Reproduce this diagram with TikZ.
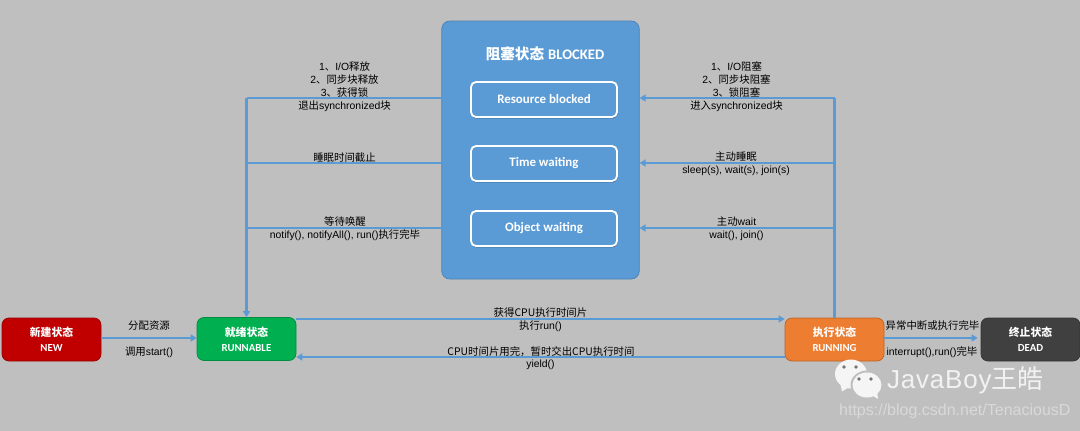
\documentclass[tikz,border=0pt]{standalone}
\usepackage{fontspec}
\setmainfont{Liberation Sans}
\newfontfamily\calf{Carlito}
\newfontfamily\cj{Noto Sans CJK SC}
\usetikzlibrary{arrows.meta,shadows}
\definecolor{bgc}{HTML}{BFBFBF}
\definecolor{bl}{HTML}{5B9BD5}
\definecolor{bld}{HTML}{4A82B5}
\definecolor{cred}{HTML}{C00000}
\definecolor{cgreen}{HTML}{00B050}
\definecolor{corange}{HTML}{ED7D31}
\definecolor{cdark}{HTML}{404040}
\tikzset{
 x=1pt,y=-1pt,
 state/.style={draw=#1!80!black,fill=#1,rounded corners=7pt,minimum width=99pt,minimum height=43pt,inner sep=0pt,line width=.7pt,text=white,align=center,font=\calf\bfseries\fontsize{10.8}{14}\selectfont},
 inner/.style={draw=white,fill=bl,rounded corners=5pt,minimum width=146pt,minimum height=35pt,inner sep=0pt,line width=1.8pt,text=white,font=\calf\bfseries\fontsize{12.9}{14}\selectfont,drop shadow={shadow xshift=.6pt,shadow yshift=-1.4pt,opacity=.35,fill=black}},
 conn/.style={draw=bl,line width=2.2pt,-{Triangle[length=6pt,width=7pt]}},
 plain/.style={draw=bl,line width=2.2pt},
 lab/.style={align=center,inner sep=0pt,text=black,font=\fontsize{10.4}{13}\selectfont},
}
\begin{document}
\begin{tikzpicture}
\useasboundingbox[fill=bgc] (0,0) rectangle (1080,431);
\node[draw=bld,fill=bl,rounded corners=8pt,minimum width=197.5pt,minimum height=258pt,inner sep=0pt,line width=.7pt] (blocked) at (540.5,150) {};
\node[text=white,inner sep=0pt,font=\fontsize{14.6}{16}\selectfont] (title) at (545,54) {{\cj\bfseries 阻塞状态} {\calf\bfseries BLOCKED}};
\node[inner] (res) at (544,99.5) {\lower1pt\hbox{Resource blocked}};
\node[inner] (tim) at (544,163.5) {\lower1pt\hbox{Time waiting}};
\node[inner] (obj) at (544,228.5) {\lower1pt\hbox{Object waiting}};
\node[state=cred] (new) at (51.5,339.5) {{\cj 新建状态}\\[1pt]NEW};
\node[state=cgreen] (runnable) at (246.5,339) {{\cj 就绪状态}\\[1pt]RUNNABLE};
\node[state=corange] (running) at (834.5,339.5) {{\cj 执行状态}\\[1pt]RUNNING};
\node[state=cdark] (dead) at (1030.5,339.5) {{\cj 终止状态}\\[1pt]DEAD};
\coordinate (c1) at (0,98);
\coordinate (c2) at (0,163);
\coordinate (c3) at (0,228);
% left
\draw[plain] (c1 -| blocked.west) -- (c1 -| runnable.north);
\draw[plain] (c2 -| blocked.west) -- (c2 -| runnable.north);
\draw[plain] (c3 -| blocked.west) -- (c3 -| runnable.north);
\draw[conn] (c1 -| runnable.north) -- (runnable.north);
% right
\draw[plain] (running.north) -- (c1 -| running.north);
\draw[conn] (c1 -| running.north) -- (c1 -| blocked.east);
\draw[conn] (c2 -| running.north) -- (c2 -| blocked.east);
\draw[conn] (c3 -| running.north) -- (c3 -| blocked.east);
% bottom
\coordinate (mid) at (0,338);
\coordinate (up) at (running.west |- 0,319);
\coordinate (dn) at (running.west |- 0,357);
\draw[conn] (new.east |- mid) -- (runnable.west |- mid);
\draw[conn] (runnable.east |- up) -- (up);
\draw[conn] (dn) -- (runnable.east |- dn);
\draw[conn] (running.east |- mid) -- ([xshift=-3pt]dead.west |- mid);
% labels
\node[lab] (l1) at (344.5,86.5) {1{\cj 、}I/O{\cj 释放}\\2{\cj 、同步块释放}\\3{\cj 、获得锁}\\{\cj 退出}synchronized{\cj 块}};
\node[lab] (l2) at (344.5,157.5) {\cj 睡眠时间截止};
\node[lab] (l3) at (345,228.7) {{\cj 等待唤醒}\\notify(), notifyAll(), run(){\cj 执行完毕}};
\node[lab] (r1) at (736.5,86.5) {1{\cj 、}I/O{\cj 阻塞}\\2{\cj 、同步块阻塞}\\3{\cj 、锁阻塞}\\{\cj 进入}synchronized{\cj 块}};
\node[lab] (r2) at (736,164) {{\cj 主动睡眠}\\sleep(s), wait(s), join(s)};
\node[lab] (r3) at (736.5,229) {{\cj 主动}wait\\wait(), join()};
\node[lab] (n1) at (149,326) {\cj 分配资源};
\node[lab] (n2) at (149,352) {{\cj 调用}start()};
\node[lab] (u1) at (540.5,312.5) {\cj 获得CPU执行时间片};
\node[lab] (u2) at (540.5,326) {{\cj 执行}run()};
\node[lab] (d1) at (541,351.5) {{\cj CPU时间片用完，暂时交出CPU执行时间}};
\node[lab] (d2) at (540.5,365) {yield()};
\node[lab] (e1) at (932.5,325.5) {\cj 异常中断或执行完毕};
\node[lab] (e2) at (932,352) {interrupt(),run(){\cj 完毕}};
% watermark
\fill[white!96!black] (851,374) ellipse (16pt and 14.5pt);
\fill[white!96!black] (840,382) -- (842,391.5) -- (851,386) -- cycle;
\fill[black!55] (844,367) circle (1.8pt) (856,367) circle (1.8pt);
\fill[bgc] (867,385) ellipse (16.5pt and 14.5pt);
\fill[white!96!black] (867,385) ellipse (14.5pt and 12.5pt);
\fill[white!96!black] (870,394) -- (878,399) -- (877,391) -- cycle;
\fill[black!55] (859,379) circle (1.8pt) (871,379) circle (1.8pt);
\node[anchor=west,inner sep=0pt,text=white!95!black,font=\fontsize{26}{28}\selectfont] (wm) at (887,380) {\addfontfeature{LetterSpace=3}JavaBoy{\cj 王皓}};
\node[anchor=west,inner sep=0pt,text=white!85!black,font=\fontsize{16}{18}\selectfont] (url) at (839,411.5) {https://blog.csdn.net/TenaciousD};
\end{tikzpicture}
\end{document}
